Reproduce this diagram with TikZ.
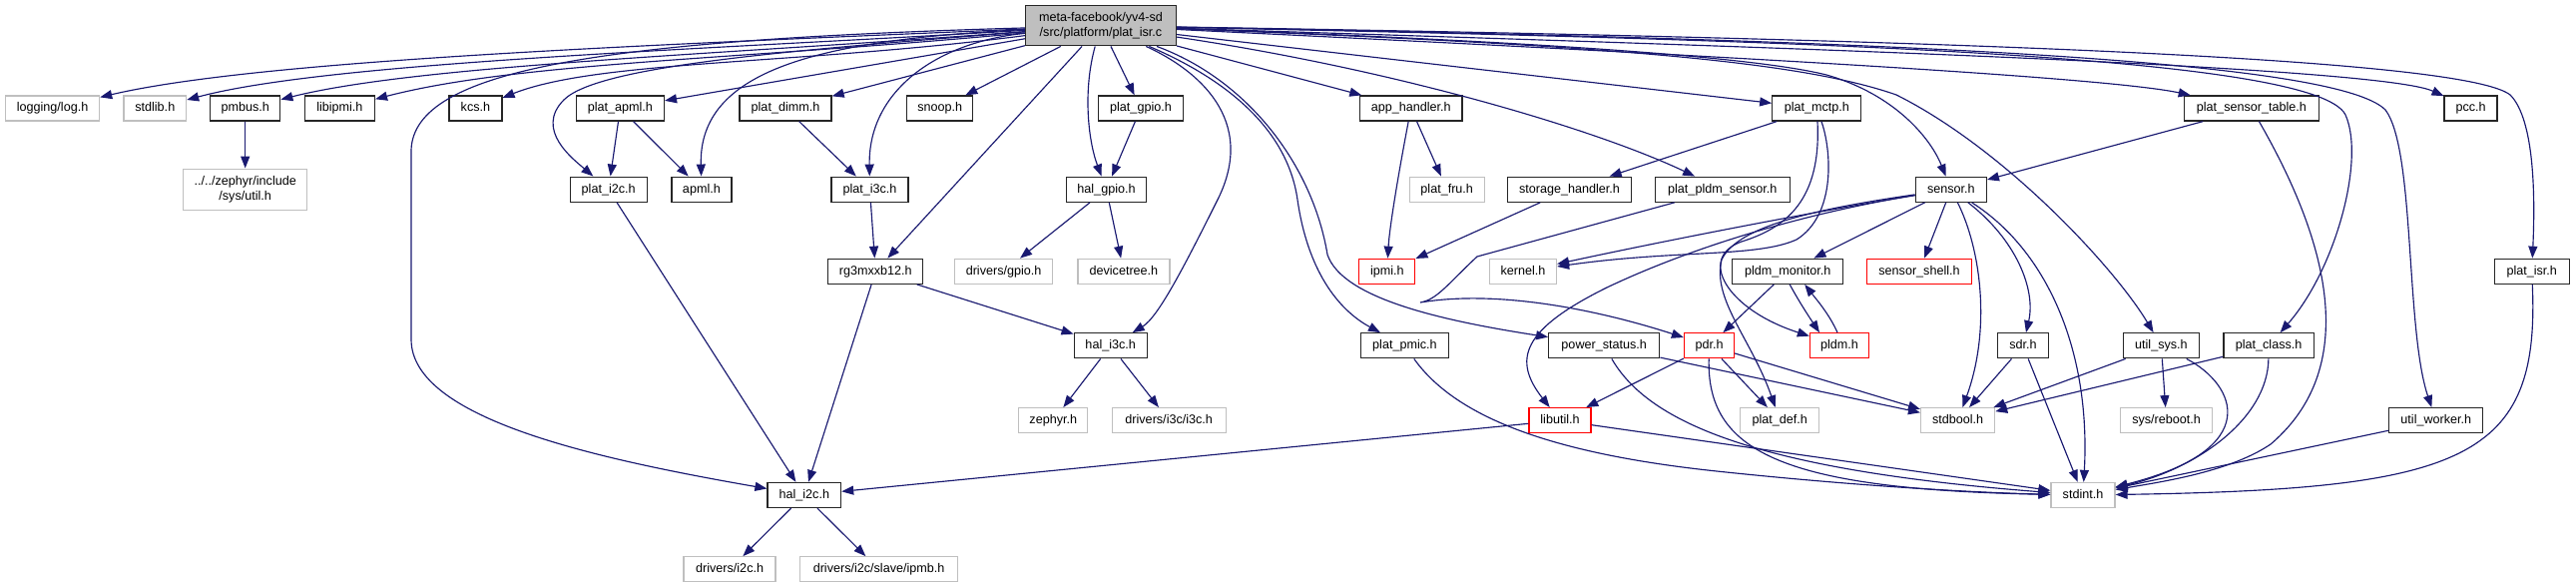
\documentclass[tikz,border=0pt]{standalone}
\usepackage{fontspec}
\setmainfont{Liberation Sans}
\usetikzlibrary{arrows.meta,calc}
\definecolor{edgeblue}{HTML}{191970}
\definecolor{graybd}{HTML}{BFBFBF}
\definecolor{rootfill}{HTML}{BFBFBF}
\begin{document}
\begin{tikzpicture}[x=1pt,y=-1pt,
  font=\fontsize{12.6}{15.3}\selectfont,
  boxbase/.style={rectangle, inner sep=0pt, line width=1.3pt, fill=white},
  box/.style={boxbase, minimum height=25pt, text height=9.2pt, text depth=2.6pt},
  nb/.style={box, draw=black!85},
  ng/.style={box, draw=graybd},
  nr/.style={box, draw=red},
  rootst/.style={boxbase, draw=black!85, fill=rootfill, align=center},
  utilst/.style={boxbase, draw=graybd, align=center},
  edg/.style={draw=edgeblue, line width=1.15pt, -{Triangle[length=12pt,width=9pt]}}]
\useasboundingbox (0,0) rectangle (2581,589);
% ---------- row 0/1
\node[rootst, minimum width=151pt, minimum height=40pt] (root) at (1103,25.8) {meta-facebook/yv4-sd\\/src/platform/plat\_isr.c};
\node[ng, minimum width=94pt] (log) at (52.6,108.5) {logging/log.h};
\node[ng, minimum width=62.5pt] (stdlib) at (155.3,108.5) {stdlib.h};
\node[nb, minimum width=70pt] (pmbus) at (245.7,108.5) {pmbus.h};
\node[nb, minimum width=70pt] (libipmi) at (340.4,108.5) {libipmi.h};
\node[nb, minimum width=53pt] (kcs) at (476.4,108.5) {kcs.h};
\node[nb, minimum width=88pt] (platapml) at (621.4,108.5) {plat\_apml.h};
\node[nb, minimum width=92pt] (platdimm) at (787,108.5) {plat\_dimm.h};
\node[nb, minimum width=66pt] (snoop) at (941.7,108.5) {snoop.h};
\node[nb, minimum width=84.5pt] (platgpio) at (1143,108.5) {plat\_gpio.h};
\node[nb, minimum width=102.6pt] (apphandler) at (1413.7,108.5) {app\_handler.h};
\node[nb, minimum width=89pt] (platmctp) at (1820.3,108.5) {plat\_mctp.h};
\node[nb, minimum width=135pt] (platsensortable) at (2255.9,108.5) {plat\_sensor\_table.h};
\node[nb, minimum width=53pt] (pcc) at (2475.6,108.5) {pcc.h};
% ---------- row 2
\node[utilst, minimum width=124pt, minimum height=41pt] (util) at (245.7,189.7) {../../zephyr/include\\/sys/util.h};
\node[nb, minimum width=77pt] (plati2c) at (609.7,189.7) {plat\_i2c.h};
\node[nb, minimum width=60pt] (apml) at (702.9,189.7) {apml.h};
\node[nb, minimum width=77pt] (plati3c) at (871.5,189.7) {plat\_i3c.h};
\node[nb, minimum width=80pt] (halgpio) at (1108.5,189.7) {hal\_gpio.h};
\node[ng, minimum width=75pt] (platfru) at (1449.7,189.7) {plat\_fru.h};
\node[nb, minimum width=124pt] (storage) at (1572.5,189.7) {storage\_handler.h};
\node[nb, minimum width=135pt] (platpldmsensor) at (1725.8,189.7) {plat\_pldm\_sensor.h};
\node[nb, minimum width=71pt] (sensor) at (1954.8,189.7) {sensor.h};
% ---------- row 3
\node[nb, minimum width=95pt] (rg3) at (877.3,271.8) {rg3mxxb12.h};
\node[ng, minimum width=98pt] (driversgpio) at (1005.6,271.8) {drivers/gpio.h};
\node[ng, minimum width=92pt] (devicetree) at (1125.9,271.8) {devicetree.h};
\node[nr, minimum width=56pt] (ipmi) at (1389.8,271.8) {ipmi.h};
\node[ng, minimum width=67pt] (kernel) at (1526,271.8) {kernel.h};
\node[nb, minimum width=111pt] (pldmmonitor) at (1791.2,271.8) {pldm\_monitor.h};
\node[nr, minimum width=105pt] (sensorshell) at (1923,271.8) {sensor\_shell.h};
\node[nb, minimum width=75pt] (platisr) at (2536.7,271.8) {plat\_isr.h};
% ---------- row 4
\node[nb, minimum width=73pt] (hali3c) at (1112.7,346.3) {hal\_i3c.h};
\node[nb, minimum width=88pt] (platpmic) at (1407.4,346.3) {plat\_pmic.h};
\node[nb, minimum width=111pt] (powerstatus) at (1607.2,346.3) {power\_status.h};
\node[nr, minimum width=50pt] (pdr) at (1712.5,346.3) {pdr.h};
\node[nr, minimum width=59pt] (pldm) at (1843,346.3) {pldm.h};
\node[nb, minimum width=51pt] (sdr) at (2026.9,346.3) {sdr.h};
\node[nb, minimum width=76pt] (utilsys) at (2165.4,346.3) {util\_sys.h};
\node[nb, minimum width=90.5pt] (platclass) at (2273.1,346.3) {plat\_class.h};
% ---------- row 5
\node[ng, minimum width=69pt] (zephyr) at (1055.3,421.2) {zephyr.h};
\node[ng, minimum width=114pt] (i3c) at (1171.2,421.2) {drivers/i3c/i3c.h};
\node[nr, minimum width=62pt] (libutil) at (1563,421.2) {libutil.h};
\node[ng, minimum width=79pt] (platdef) at (1783.3,421.2) {plat\_def.h};
\node[ng, minimum width=74pt] (stdbool) at (1961.6,421.2) {stdbool.h};
\node[ng, minimum width=92pt] (sysreboot) at (2170.6,421.2) {sys/reboot.h};
\node[nb, minimum width=94pt] (utilworker) at (2440.8,421.2) {util\_worker.h};
% ---------- rows 6/7
\node[nb, minimum width=73.5pt] (hali2c) at (805.8,496) {hal\_i2c.h};
\node[ng, minimum width=64pt] (stdint) at (2087,496) {stdint.h};
\node[ng, minimum width=92pt] (driversi2c) at (731.1,570.3) {drivers/i2c.h};
\node[ng, minimum width=158pt] (ipmb) at (880.6,570.3) {drivers/i2c/slave/ipmb.h};

% ---------- edges from the root
\draw[edg] (root) .. controls (650,45) and (260,60) .. (log);
\draw[edg] (root) .. controls (700,50) and (330,62) .. (stdlib);
\draw[edg] (root) .. controls (720,55) and (420,65) .. (pmbus);
\draw[edg] (root) .. controls (740,60) and (520,62) .. (libipmi);
\draw[edg] (root) .. controls (800,65) and (600,60) .. (kcs);
\draw[edg] (root) -- (platapml);
\draw[edg] (root) -- (platdimm);
\draw[edg] (root) .. controls (820,40) and (700,70) .. (apml);
\draw[edg] (root) .. controls (800,50) and (600,65) .. (565,100) .. controls (535,130) and (575,160) .. (plati2c);
\draw[edg] (root) .. controls (600,40) and (415,70) .. (412,150) -- (412,340) .. controls (412,420) and (600,460) .. (hali2c);
\draw[edg] (root) .. controls (940,42) and (870,90) .. (plati3c);
\draw[edg] (root) -- (rg3);
\draw[edg] (root) -- (snoop);
\draw[edg] (root) -- (platgpio);
\draw[edg] (root) .. controls (1085,90) and (1090,140) .. (halgpio);
\draw[edg] (root) .. controls (1200,70) and (1260,120) .. (1220,200) .. controls (1185,270) and (1160,318) .. (hali3c);
\draw[edg] (root) .. controls (1230,80) and (1290,130) .. (1300,200) .. controls (1310,270) and (1340,310) .. (platpmic);
\draw[edg] (root) .. controls (1250,80) and (1315,165) .. (1330,255) .. controls (1345,300) and (1450,322) .. (powerstatus);
\draw[edg] (root) -- (apphandler);
\draw[edg] (root) .. controls (1400,70) and (1600,130) .. (platpldmsensor);
\draw[edg] (root) -- (platmctp);
\draw[edg] (root) .. controls (1500,40) and (1750,55) .. (1830,75) .. controls (1900,95) and (1935,140) .. (sensor);
\draw[edg] (root) .. controls (1600,50) and (2100,75) .. (platsensortable);
\draw[edg] (root) .. controls (1700,45) and (2380,65) .. (pcc);
\draw[edg] (root) .. controls (1600,45) and (1800,60) .. (1900,95) .. controls (2010,150) and (2120,270) .. (utilsys);
\draw[edg] (root) .. controls (1800,40) and (2320,55) .. (2350,115) .. controls (2370,160) and (2340,270) .. (platclass);
\draw[edg] (root) .. controls (1900,40) and (2340,60) .. (2390,110) .. controls (2420,150) and (2410,330) .. (utilworker);
\draw[edg] (root) .. controls (2000,40) and (2470,60) .. (2515,95) .. controls (2540,120) and (2540,200) .. (platisr);

% ---------- other edges
\draw[edg] (pmbus) -- (util);
\draw[edg] (platapml) -- (plati2c);
\draw[edg] (platapml) -- (apml);
\draw[edg] (platdimm) -- (plati3c);
\draw[edg] (plati2c) -- (hali2c);
\draw[edg] (plati3c) -- (rg3);
\draw[edg] (rg3) -- (hali2c);
\draw[edg] (rg3) -- (hali3c);
\draw[edg] (platgpio) -- (halgpio);
\draw[edg] (halgpio) -- (driversgpio);
\draw[edg] (halgpio) -- (devicetree);
\draw[edg] (apphandler) .. controls (1400,180) and (1392,230) .. (ipmi);
\draw[edg] (apphandler) -- (platfru);
\draw[edg] (storage) -- (ipmi);
\draw[edg] (platmctp) -- (storage);
\draw[edg] (platmctp) .. controls (1835,150) and (1840,215) .. (1800,240) .. controls (1760,258) and (1680,250) .. (kernel);
\draw[edg] (platmctp) .. controls (1825,200) and (1790,228) .. (1745,242) .. controls (1700,258) and (1730,310) .. (pldm);
\draw[edg] (sensor) .. controls (1800,215) and (1650,245) .. (kernel);
\draw[edg] (sensor) .. controls (1800,215) and (1690,250) .. (1610,288) .. controls (1525,330) and (1515,360) .. (libutil);
\draw[edg] (sensor) .. controls (1800,212) and (1740,230) .. (1725,260) .. controls (1715,300) and (1755,340) .. (platdef);
\draw[edg] (sensor) -- (pldmmonitor);
\draw[edg] (sensor) -- (sensorshell);
\draw[edg] (sensor) .. controls (1985,250) and (1995,330) .. (stdbool);
\draw[edg] (sensor) .. controls (2020,240) and (2040,290) .. (sdr);
\draw[edg] (sensor) .. controls (2050,250) and (2095,350) .. (stdint);
\draw[edg] (platsensortable) -- (sensor);
\draw[edg] (platsensortable) .. controls (2320,220) and (2375,360) .. (2275,445) .. controls (2235,472) and (2170,482) .. (stdint);
\draw[edg] (pldmmonitor) -- (pdr);
\draw[edg] ($(pldmmonitor.south)+(2,0)$) .. controls (1803,303) and (1813,318) .. ($(pldm.north)+(-20,0)$);
\draw[edg] ($(pldm.north)+(-2,0)$) .. controls (1833,315) and (1820,300) .. ($(pldmmonitor.south)+(17,0)$);
\draw[edg] (platpldmsensor) -- (1480,257) .. controls (1450,285) and (1440,300) .. (1423,303) .. controls (1500,290) and (1600,310) .. (pdr);
\draw[edg] (pdr) -- (libutil);
\draw[edg] (pdr) -- (platdef);
\draw[edg] (pdr) -- (stdbool);
\draw[edg] (pdr) .. controls (1710,450) and (1780,490) .. (stdint);
\draw[edg] (powerstatus) -- (stdbool);
\draw[edg] (powerstatus) .. controls (1650,420) and (1750,470) .. (stdint);
\draw[edg] (libutil) -- (stdint);
\draw[edg] (libutil) -- (hali2c);
\draw[edg] (platpmic) .. controls (1460,420) and (1560,455) .. (1720,472) .. controls (1880,489) and (2000,494) .. (stdint);
\draw[edg] (hali3c) -- (zephyr);
\draw[edg] (hali3c) -- (i3c);
\draw[edg] (hali2c) -- (driversi2c);
\draw[edg] (hali2c) -- (ipmb);
\draw[edg] (sdr) -- (stdbool);
\draw[edg] (sdr) -- (stdint);
\draw[edg] (utilsys) -- (stdbool);
\draw[edg] (utilsys) -- (sysreboot);
\draw[edg] (utilsys) .. controls (2240,385) and (2270,450) .. (stdint);
\draw[edg] (platclass) -- (stdbool);
\draw[edg] (platclass) .. controls (2272,420) and (2200,470) .. (stdint);
\draw[edg] (utilworker) -- (stdint);
\draw[edg] (platisr) .. controls (2545,460) and (2470,490) .. (stdint);
\end{tikzpicture}
\end{document}
